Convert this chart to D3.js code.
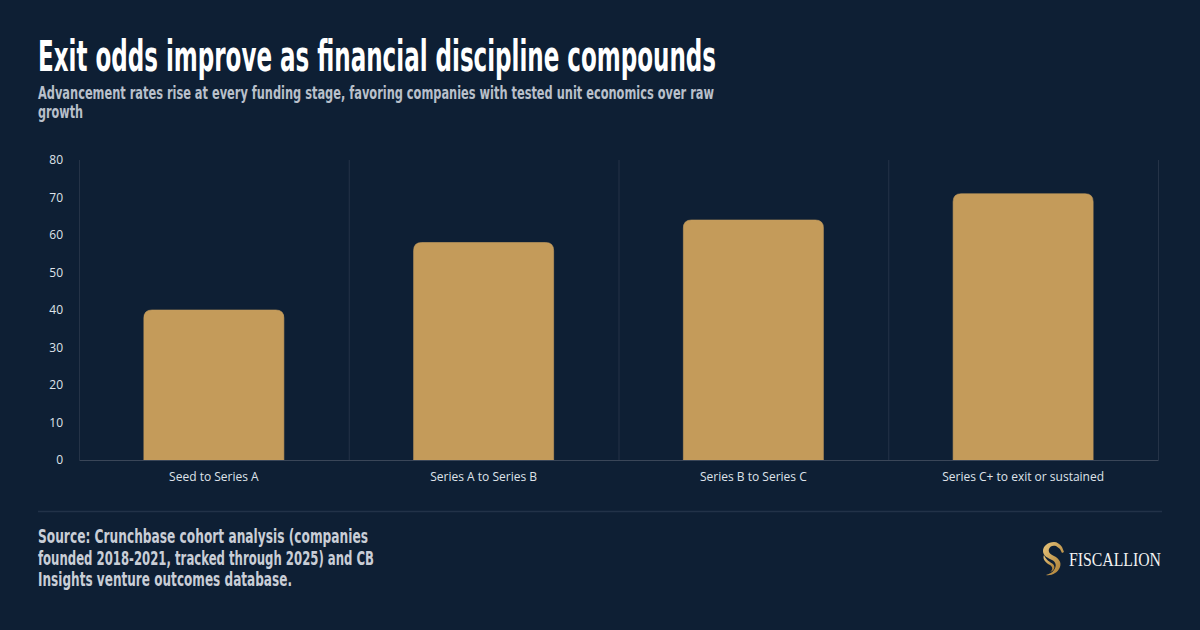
<!DOCTYPE html>
<html>
<head>
<meta charset="utf-8">
<script src="https://cdn.jsdelivr.net/npm/d3@7"></script>
<style>
  html, body { margin: 0; padding: 0; background: #0e1f34; }
  svg { display: block; }
</style>
</head>
<body>
<svg id="drawing_region"></svg>
<script>
// chart data
const categories = ["Seed to Series A", "Series A to Series B", "Series B to Series C", "Series C+ to exit or sustained"];
const values = [40, 58, 64, 71];
const yTicks = [0, 10, 20, 30, 40, 50, 60, 70, 80];

const titleText = "Exit odds improve as financial discipline compounds";
const subtitleLines = ["Advancement rates rise at every funding stage, favoring companies with tested unit economics over raw", "growth"];
const sourceLines = ["Source: Crunchbase cohort analysis (companies", "founded 2018-2021, tracked through 2025) and CB", "Insights venture outcomes database."];

const config = {
    width: 1200,
    height: 630,
    margin: {top: 160, right: 42, bottom: 170, left: 79}
};

const svg = d3.select('#drawing_region')
    .attr('width', config.width)
    .attr('height', config.height);

svg.append('rect')
    .attr('width', config.width)
    .attr('height', config.height)
    .attr('fill', '#0e1f34');

const condensed = "'Liberation Sans Narrow', 'DejaVu Sans Condensed', sans-serif";

// title + subtitle
svg.append('text')
    .attr('x', 38)
    .attr('y', 71)
    .attr('fill', '#ffffff')
    .attr('font-family', condensed)
    .attr('font-weight', 'bold')
    .attr('font-size', 42)
    .attr('textLength', 678)
    .attr('lengthAdjust', 'spacingAndGlyphs')
    .text(titleText);

svg.append('text')
    .attr('x', 38)
    .attr('y', 99)
    .attr('fill', '#b9c0cb')
    .attr('font-family', condensed)
    .attr('font-weight', 'bold')
    .attr('font-size', 18)
    .attr('textLength', 676)
    .attr('lengthAdjust', 'spacingAndGlyphs')
    .text(subtitleLines[0]);

svg.append('text')
    .attr('x', 38)
    .attr('y', 118)
    .attr('fill', '#b9c0cb')
    .attr('font-family', condensed)
    .attr('font-weight', 'bold')
    .attr('font-size', 18)
    .attr('textLength', 45)
    .attr('lengthAdjust', 'spacingAndGlyphs')
    .text(subtitleLines[1]);

// chart
const inner_width = config.width - config.margin.left - config.margin.right;
const inner_height = config.height - config.margin.top - config.margin.bottom;

const chart = svg.append('g')
    .attr('transform', `translate(${config.margin.left}, ${config.margin.top})`);

const xscale = d3.scaleBand()
    .domain(categories)
    .range([0, inner_width])
    .paddingInner(0.481)
    .paddingOuter(0.2405);

const xgrid = d3.scaleBand()
    .domain(categories)
    .range([0, inner_width])
    .padding(0);

const yscale = d3.scaleLinear()
    .domain([0, 80])
    .range([inner_height, 0]);

// vertical separators
const gridPos = categories.map(c => xgrid(c)).concat([inner_width]);
chart.append('g')
    .selectAll('line')
    .data(gridPos)
    .join('line')
    .attr('x1', d => d + 0.5)
    .attr('x2', d => d + 0.5)
    .attr('y1', 0)
    .attr('y2', inner_height)
    .attr('stroke', '#253347')
    .attr('stroke-width', 1);

// bars with rounded top corners
const r = 8;
const barPath = d => {
    const x0 = xscale(d.cat), w = xscale.bandwidth();
    const y0 = yscale(d.value), y1 = yscale(0);
    return `M${x0},${y1} V${y0 + r} Q${x0},${y0} ${x0 + r},${y0} H${x0 + w - r} Q${x0 + w},${y0} ${x0 + w},${y0 + r} V${y1} Z`;
};

chart.append('g')
    .selectAll('path')
    .data(categories.map((c, i) => ({cat: c, value: values[i]})))
    .join('path')
    .attr('d', barPath)
    .attr('fill', '#c49b5a')
    .attr('stroke', '#c8a060')
    .attr('stroke-width', 0.6);

// axes
const xaxis = d3.axisBottom(xscale).tickSize(0).tickPadding(12);
const yaxis = d3.axisLeft(yscale).tickValues(yTicks).tickSize(0).tickPadding(16);

const xg = chart.append('g')
    .attr('transform', `translate(0, ${inner_height})`)
    .call(xaxis);
xg.select('.domain').attr('stroke', '#3a4658').attr('stroke-width', 1.2);
xg.selectAll('text')
    .attr('fill', '#dfe3ea')
    .attr('font-family', "'Open Sans', sans-serif")
    .attr('font-size', 12);

const yg = chart.append('g').call(yaxis);
yg.select('.domain').remove();
yg.selectAll('text')
    .attr('fill', '#dfe3ea')
    .attr('font-family', "'Open Sans', sans-serif")
    .attr('font-size', 12);

// footer
svg.append('line')
    .attr('x1', 38).attr('x2', 1162)
    .attr('y1', 511.5).attr('y2', 511.5)
    .attr('stroke', '#223248')
    .attr('stroke-width', 1.5);

const srcWidths = [330, 336, 254];
svg.append('g')
    .selectAll('text')
    .data(sourceLines)
    .join('text')
    .attr('x', 38)
    .attr('y', (d, i) => 543 + i * 21.5)
    .attr('fill', '#c9ced7')
    .attr('font-family', condensed)
    .attr('font-weight', 'bold')
    .attr('font-size', 19)
    .attr('textLength', (d, i) => srcWidths[i])
    .attr('lengthAdjust', 'spacingAndGlyphs')
    .text(d => d);

// logo
const defs = svg.append('defs');
const grad = defs.append('linearGradient')
    .attr('id', 'gold')
    .attr('x1', '0').attr('y1', '0').attr('x2', '1').attr('y2', '1');
grad.append('stop').attr('offset', '0%').attr('stop-color', '#e7c57c');
grad.append('stop').attr('offset', '100%').attr('stop-color', '#a8792f');

const logo = svg.append('g').attr('transform', 'translate(1040, 541)');
logo.append('path')
    .attr('d', 'M14,1 C8,1 3,5 3,10 C3,15 8,17 12,19 C16,21 17,25 14,29 C12,32 9,33 6,34 C11,35 18,32 20,26 C22,21 18,17 14,15 C10,13 8,11 9,8 C10,5 13,4 16,5 L20,8 L22,12 L24,11 L22,6 C20,3 17,1 14,1 Z')
    .attr('fill', 'url(#gold)');
logo.append('path')
    .attr('d', 'M4,14 C2,18 6,22 10,24 C13,26 13,29 10,31 C14,30 16,26 13,23 C10,21 6,19 4,14 Z')
    .attr('fill', 'url(#gold)');

svg.append('text')
    .attr('x', 1069)
    .attr('y', 566)
    .attr('fill', '#f2f2f2')
    .attr('font-family', "'Liberation Serif', 'DejaVu Serif', serif")
    .attr('font-size', 19)
    .attr('textLength', 92)
    .attr('lengthAdjust', 'spacingAndGlyphs')
    .text('FISCALLION');
</script>
</body>
</html>
